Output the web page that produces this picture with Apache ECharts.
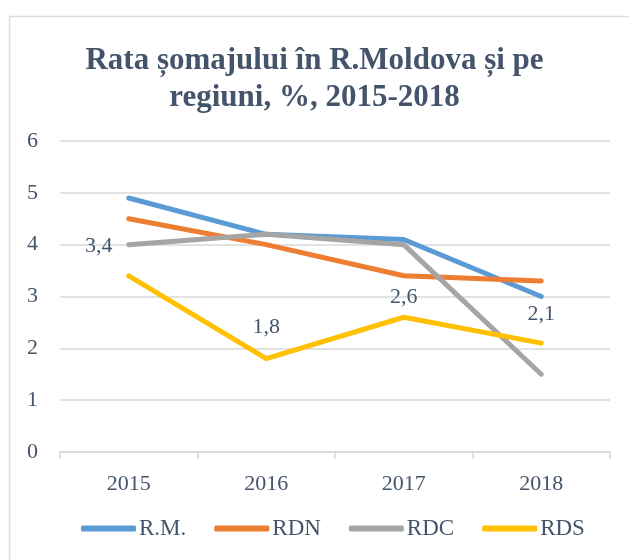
<!DOCTYPE html>
<html>
<head>
<meta charset="utf-8">
<script src="https://cdn.jsdelivr.net/npm/echarts@6/dist/echarts.min.js"></script>
<style>
  html, body { margin: 0; padding: 0; background: #fff; }
  #chart { width: 629px; height: 560px; }
</style>
</head>
<body>
<div id="chart"></div>
<script>
// ani si valori (rata somajului, %)
var years = ['2015', '2016', '2017', '2018'];
var rmData = [4.9, 4.2, 4.1, 3.0];
var rdnData = [4.5, 4.0, 3.4, 3.3];
var rdcData = [4.0, 4.2, 4.0, 1.5];
var rdsData = [3.4, 1.8, 2.6, 2.1];

var textColor = '#44546A';
var serif = 'Liberation Serif';

var myChart = echarts.init(document.getElementById('chart'));

// etichetele doar pe RDS, cu pozitii ajustate ca in original
var rdsLabelOffset = [[-30, -10], [0, -12], [0, -1], [0, -10]];
var rdsSeriesData = [];
for (var i = 0; i < rdsData.length; i++) {
    rdsSeriesData.push({
        value: rdsData[i],
        label: { offset: rdsLabelOffset[i] }
    });
}

function lineSeries(name, color, data) {
    return {
        name: name,
        type: 'line',
        data: data,
        symbol: 'circle',
        symbolSize: 0.1,
        showSymbol: true,
        lineStyle: { color: color, width: 5, cap: 'round', join: 'round' },
        itemStyle: { color: color },
        emphasis: { disabled: true }
    };
}

var rds = lineSeries('RDS', '#FFC000', rdsSeriesData);
rds.label = {
    show: true,
    position: 'top',
    distance: 8,
    fontFamily: serif,
    fontSize: 22,
    color: textColor,
    formatter: function (p) { return String(p.value).replace('.', ','); }
};

var option = {
    animation: false,
    title: {
        text: 'Rata șomajului în R.Moldova și pe\nregiuni, %, 2015-2018',
        left: 'center',
        top: 37,
        textStyle: {
            fontFamily: serif,
            fontSize: 31,
            fontWeight: 'bold',
            color: textColor,
            lineHeight: 37
        }
    },
    graphic: [{
        type: 'rect',
        shape: { x: 9.5, y: 16.5, width: 700, height: 700 },
        style: { fill: 'none', stroke: '#D9DEE5', lineWidth: 1.5 },
        silent: true
    }],
    legend: {
        bottom: 15,
        left: 76,
        icon: 'roundRect',
        itemWidth: 55,
        itemHeight: 6,
        itemGap: 28,
        textStyle: { fontFamily: serif, fontSize: 23, color: textColor, padding: [0, 0, 0, -2] },
        data: ['R.M.', 'RDN', 'RDC', 'RDS']
    },
    grid: {
        left: 60,
        right: 19,
        top: 141,
        bottom: 108,
        containLabel: false
    },
    xAxis: {
        type: 'category',
        data: years,
        boundaryGap: true,
        axisLine: { lineStyle: { color: '#D9D9D9', width: 1.5 } },
        axisTick: { show: true, length: 7, lineStyle: { color: '#D9D9D9', width: 1.5 } },
        axisLabel: { fontFamily: serif, fontSize: 22, color: textColor, margin: 21 }
    },
    yAxis: {
        type: 'value',
        min: 0,
        max: 6,
        interval: 1,
        axisLine: { show: false },
        axisTick: { show: false },
        axisLabel: { fontFamily: serif, fontSize: 22, color: textColor, margin: 22 },
        splitLine: { lineStyle: { color: '#D9D9D9', width: 1.5 } }
    },
    series: [
        lineSeries('R.M.', '#5B9BD5', rmData),
        lineSeries('RDN', '#ED7D31', rdnData),
        lineSeries('RDC', '#A5A5A5', rdcData),
        rds
    ]
};

myChart.setOption(option);
</script>
</body>
</html>
